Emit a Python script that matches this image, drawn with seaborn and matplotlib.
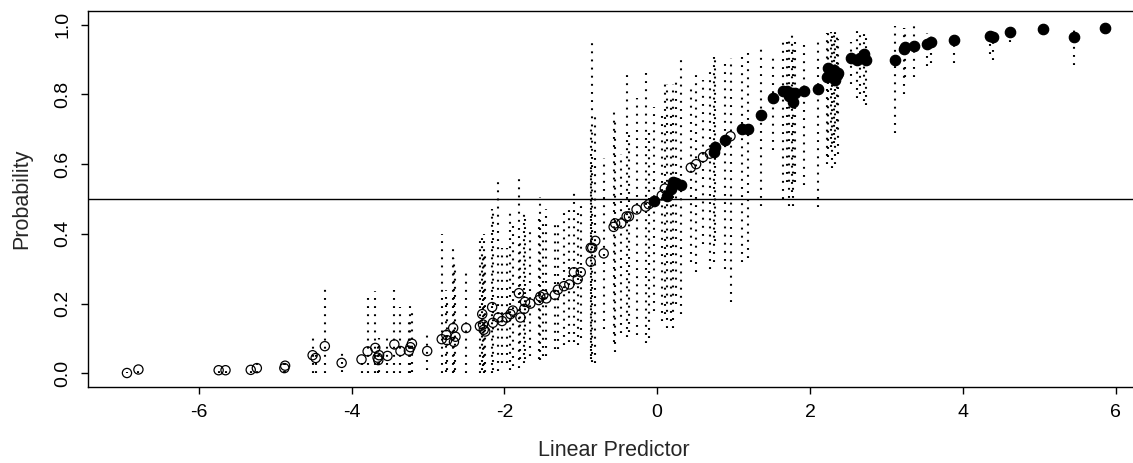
import matplotlib
matplotlib.use("Agg")
import matplotlib.pyplot as plt
import seaborn as sns
import pandas as pd

# linear predictor, posterior probability, interval ends, and whether the point is drawn filled
lin_pred = [-6.94, -6.79, -5.74, -5.65, -5.32, -5.24, -4.88, -4.87, -4.51, -4.47,
            -4.35, -4.13, -3.87, -3.79, -3.69, -3.66, -3.65, -3.64, -3.53, -3.44,
            -3.36, -3.25, -3.23, -3.21, -3.01, -2.82, -2.76, -2.75, -2.67, -2.66,
            -2.64, -2.50, -2.32, -2.29, -2.27, -2.25, -2.28, -2.16, -2.15, -2.08,
            -2.03, -1.97, -1.92, -1.89, -1.81, -1.79, -1.74, -1.73, -1.66, -1.55,
            -1.53, -1.49, -1.45, -1.34, -1.30, -1.22, -1.15, -1.09, -1.04, -1.00,
            -0.87, -0.87, -0.85, -0.81, -0.70, -0.57, -0.55, -0.47, -0.40, -0.37,
            -0.27, -0.15, -0.11, -0.04, 0.06, 0.10, 0.13, 0.18, 0.21, 0.24,
            0.31, 0.44, 0.51, 0.60, 0.69, 0.74, 0.76, 0.89, 0.96, 1.11,
            1.19, 1.36, 1.51, 1.65, 1.70, 1.72, 1.76, 1.78, 1.81, 1.92,
            2.10, 2.22, 2.24, 2.27, 2.29, 2.31, 2.33, 2.35, 2.37, 2.54,
            2.61, 2.66, 2.71, 2.73, 3.11, 3.23, 3.25, 3.36, 3.53, 3.58,
            3.88, 4.36, 4.40, 4.62, 5.05, 5.45, 5.86]
prob = [0.001, 0.011, 0.009, 0.009, 0.010, 0.015, 0.015, 0.022, 0.052, 0.044,
        0.078, 0.030, 0.040, 0.063, 0.073, 0.045, 0.038, 0.052, 0.050, 0.083,
        0.064, 0.065, 0.075, 0.085, 0.064, 0.098, 0.110, 0.095, 0.130, 0.090,
        0.105, 0.130, 0.135, 0.170, 0.125, 0.120, 0.140, 0.190, 0.145, 0.160,
        0.150, 0.160, 0.170, 0.180, 0.230, 0.160, 0.185, 0.205, 0.200, 0.210,
        0.220, 0.225, 0.215, 0.225, 0.240, 0.250, 0.255, 0.290, 0.270, 0.290,
        0.320, 0.360, 0.360, 0.380, 0.344, 0.420, 0.430, 0.430, 0.450, 0.450,
        0.470, 0.478, 0.485, 0.494, 0.510, 0.530, 0.510, 0.530, 0.550, 0.545,
        0.540, 0.590, 0.600, 0.620, 0.630, 0.635, 0.650, 0.670, 0.680, 0.700,
        0.700, 0.740, 0.790, 0.810, 0.810, 0.795, 0.805, 0.777, 0.805, 0.810,
        0.815, 0.850, 0.875, 0.865, 0.855, 0.870, 0.840, 0.855, 0.860, 0.905,
        0.900, 0.905, 0.915, 0.900, 0.900, 0.930, 0.935, 0.940, 0.945, 0.950,
        0.957, 0.968, 0.966, 0.979, 0.988, 0.965, 0.990]
lower = [0.000, 0.000, 0.000, 0.000, 0.000, 0.000, 0.000, 0.000, 0.000, 0.000,
         0.000, 0.005, 0.000, 0.000, 0.000, 0.000, 0.000, 0.005, 0.000, 0.000,
         0.000, 0.000, 0.000, 0.005, 0.010, 0.000, 0.005, 0.010, 0.000, 0.005,
         0.010, 0.000, 0.000, 0.010, 0.000, 0.005, 0.020, 0.000, 0.010, 0.008,
         0.030, 0.030, 0.010, 0.020, 0.014, 0.040, 0.030, 0.040, 0.050, 0.040,
         0.037, 0.050, 0.050, 0.070, 0.070, 0.080, 0.090, 0.090, 0.080, 0.100,
         0.050, 0.040, 0.032, 0.030, 0.128, 0.090, 0.060, 0.115, 0.104, 0.120,
         0.110, 0.086, 0.100, 0.180, 0.150, 0.170, 0.130, 0.150, 0.130, 0.200,
         0.170, 0.320, 0.290, 0.370, 0.300, 0.320, 0.380, 0.300, 0.205, 0.320,
         0.330, 0.480, 0.640, 0.500, 0.550, 0.480, 0.520, 0.480, 0.550, 0.540,
         0.478, 0.600, 0.620, 0.650, 0.590, 0.660, 0.600, 0.700, 0.630, 0.830,
         0.790, 0.800, 0.780, 0.770, 0.690, 0.800, 0.850, 0.850, 0.880, 0.890,
         0.890, 0.915, 0.900, 0.950, 0.980, 0.885, 0.985]
upper = [0.003, 0.012, 0.010, 0.010, 0.020, 0.047, 0.047, 0.030, 0.110, 0.060,
         0.253, 0.070, 0.040, 0.215, 0.235, 0.090, 0.060, 0.100, 0.110, 0.240,
         0.190, 0.150, 0.195, 0.190, 0.110, 0.400, 0.240, 0.220, 0.370, 0.330,
         0.300, 0.290, 0.380, 0.400, 0.400, 0.350, 0.330, 0.470, 0.460, 0.555,
         0.360, 0.360, 0.470, 0.440, 0.574, 0.380, 0.470, 0.450, 0.410, 0.450,
         0.506, 0.430, 0.470, 0.440, 0.440, 0.460, 0.470, 0.530, 0.460, 0.500,
         0.600, 0.700, 0.953, 0.750, 0.617, 0.760, 0.720, 0.630, 0.866, 0.700,
         0.790, 0.876, 0.700, 0.765, 0.750, 0.840, 0.830, 0.800, 0.830, 0.850,
         0.914, 0.830, 0.860, 0.840, 0.880, 0.910, 0.900, 0.905, 0.905, 0.923,
         0.930, 0.940, 0.920, 0.950, 0.960, 0.955, 0.970, 0.940, 0.960, 0.960,
         0.966, 0.975, 0.985, 0.980, 0.985, 0.985, 0.980, 0.975, 0.960, 0.950,
         0.985, 0.970, 0.985, 0.980, 0.995, 0.990, 0.990, 0.995, 0.977, 0.980,
         0.980, 0.985, 0.990, 0.990, 0.995, 0.985, 0.995]
filled = [False] * 73 + [True] + [False, False, True, True, True, True, True,
          False, False, False, False, True, True, True, False] + [True] * 38

df = pd.DataFrame({"lp": lin_pred, "p": prob, "lo": lower, "hi": upper, "filled": filled})

sns.set_style("ticks")
plt.rcParams["font.family"] = ["Liberation Sans", "DejaVu Sans"]

fig = plt.figure(figsize=(11.33, 4.63), dpi=100)
ax = fig.add_axes([88 / 1133, 75.7 / 463, 1052 / 1133, 376.6 / 463])

ax.vlines(df["lp"], df["lo"], df["hi"], colors="black", linewidth=1.5,
          linestyles=(0, (0.9, 3.0)))
ax.axhline(0.5, color="black", linewidth=1.0)

sns.scatterplot(data=df[~df["filled"]], x="lp", y="p", ax=ax, marker="o", s=44,
                facecolors="none", edgecolor="black", linewidth=0.9, zorder=3)
sns.scatterplot(data=df[df["filled"]], x="lp", y="p", ax=ax, marker="o", s=56,
                color="black", edgecolor="black", linewidth=0.9, zorder=3)

ax.set_xlim(-7.45, 6.32)
ax.set_ylim(-0.04, 1.04)
ax.set_xticks([-6, -4, -2, 0, 2, 4, 6])
ax.set_xticklabels(["-6", "-4", "-2", "0", "2", "4", "6"])
ax.set_yticks([0.0, 0.2, 0.4, 0.6, 0.8, 1.0])
ax.set_yticklabels(["0.0", "0.2", "0.4", "0.6", "0.8", "1.0"], rotation=90, va="center")

for sp in ax.spines.values():
    sp.set_color("black")
    sp.set_linewidth(1.0)
ax.tick_params(axis="both", length=5, width=1.0, pad=7, labelsize=14, colors="black")

ax.set_xlabel("Linear Predictor", fontsize=15.5, labelpad=14)
ax.set_ylabel("Probability", fontsize=15.5, labelpad=16)

fig.savefig("out.png", dpi=100)
